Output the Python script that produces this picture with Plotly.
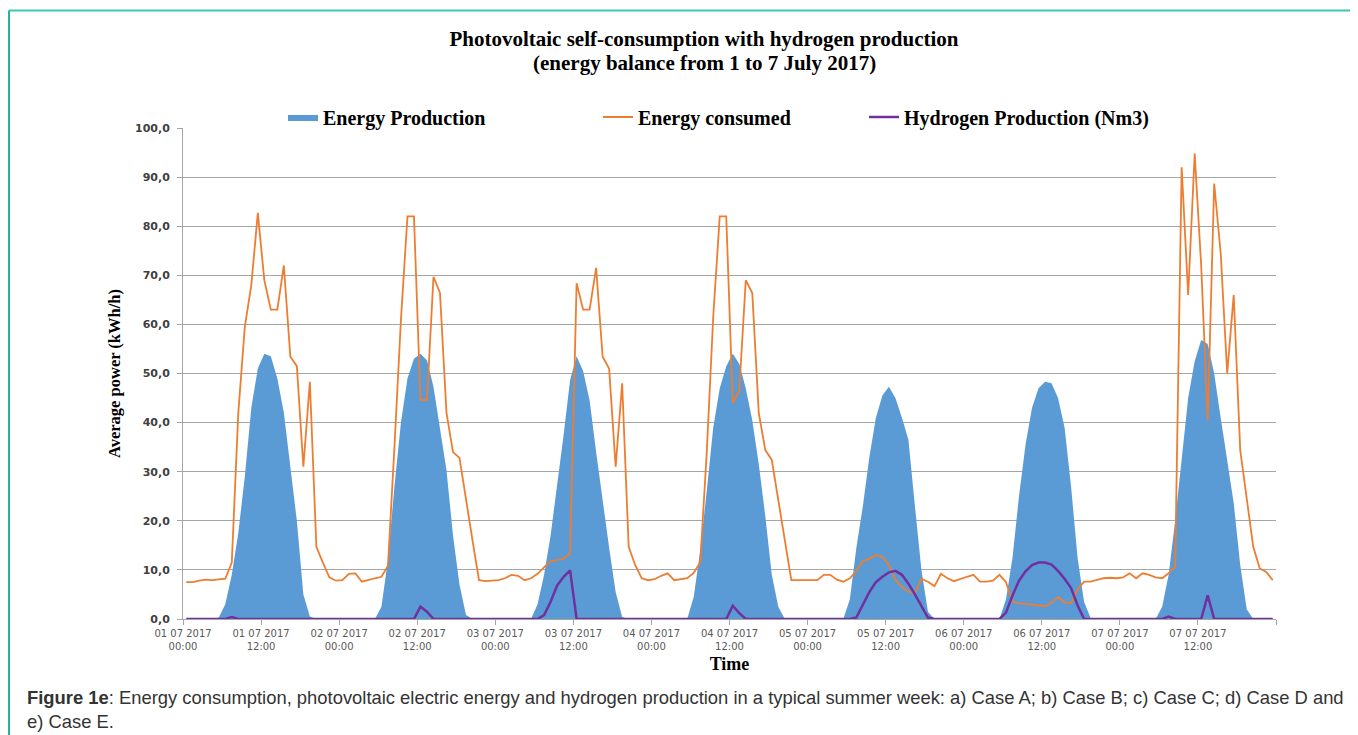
import plotly.graph_objects as go

# ---------------- data (hourly, 1-7 July 2017) ----------------
hours = list(range(168))

energy_production = [
    # 01 07
    0, 0, 0, 0, 0, 0.3, 3, 9, 17.5, 29, 43, 51, 54, 53.5, 49, 42, 31.5, 20, 5, 0.5, 0, 0, 0, 0,
    # 02 07
    0, 0, 0, 0, 0, 0, 2.5, 12, 27, 40, 49, 53, 54, 52.7, 47.3, 38.5, 30.3, 17, 7, 0.8, 0, 0, 0, 0,
    # 03 07
    0, 0, 0, 0, 0, 0, 3, 9, 17, 27, 37.5, 48.7, 53.5, 50.5, 44.5, 34, 24, 14.5, 5.5, 0.4, 0, 0, 0, 0,
    # 04 07
    0, 0, 0, 0, 0, 0, 4.5, 14, 26, 39, 47, 51.5, 54, 52, 47, 40.5, 31.5, 21, 9, 2.5, 0, 0, 0, 0,
    # 05 07
    0, 0, 0, 0, 0, 0, 4, 14.5, 23, 33, 41, 45.5, 47.3, 45, 41, 36.5, 23, 10, 1.5, 0, 0, 0, 0, 0,
    # 06 07
    0, 0, 0, 0, 0, 0, 4, 12.5, 25, 35.5, 43, 47, 48.3, 48, 45, 39, 27, 12.5, 3.5, 0.2, 0, 0, 0, 0,
    # 07 07
    0, 0, 0, 0, 0, 0, 2.5, 9, 20, 32.5, 45, 52.5, 56.8, 56, 50, 41, 32.5, 23.6, 11, 2, 0, 0, 0, 0,
]

energy_consumed = [
    # 01 07
    7.5, 7.5, 7.8, 8.0, 7.9, 8.0, 8.2, 11.5, 42, 59.5, 68, 82.7, 69, 63, 63, 72, 53.4, 51.5, 31, 48.3, 14.7, 11.5, 8.5, 7.8,
    # 02 07
    7.9, 9.2, 9.3, 7.6, 8.0, 8.3, 8.6, 10.8, 35, 61, 82, 82, 44.6, 44.6, 69.7, 66.4, 42, 34, 32.8, 24, 16, 7.9, 7.7, 7.8,
    # 03 07
    7.9, 8.3, 9.0, 8.8, 7.9, 8.3, 9.2, 10.5, 11.8, 12.0, 12.3, 13.4, 68.4, 63, 63, 71.5, 53.4, 51, 31, 48, 14.7, 11, 8.3, 7.9,
    # 04 07
    8.1, 8.8, 9.3, 7.9, 8.1, 8.3, 9.4, 11.5, 33.8, 61.6, 82, 82, 44, 46.5, 69, 66.4, 42, 34.4, 32.4, 24, 16, 7.9, 7.9, 7.9,
    # 05 07
    7.9, 7.9, 9.0, 9.0, 8.0, 7.6, 8.3, 9.8, 11.8, 12.3, 13.0, 12.7, 11.0, 8.0, 6.5, 5.6, 5.2, 8.2, 7.6, 6.7, 9.2, 8.3, 7.7, 8.2,
    # 06 07
    8.6, 9.0, 7.6, 7.6, 7.8, 9.0, 7.5, 3.5, 3.2, 3.1, 2.9, 2.7, 2.6, 3.3, 4.5, 3.4, 3.2, 6.0, 7.6, 7.6, 7.9, 8.3, 8.4, 8.3,
    # 07 07
    8.5, 9.3, 8.3, 9.3, 9.0, 8.5, 8.3, 9.3, 10.6, 92, 66, 94.8, 72, 40.5, 88.7, 74.5, 50, 66, 34.4, 24.9, 14.7, 10.3, 9.6, 7.9,
]

hydrogen_production = [
    # 01 07
    0, 0, 0, 0, 0, 0, 0, 0.4, 0, 0, 0, 0, 0, 0, 0, 0, 0, 0, 0, 0, 0, 0, 0, 0,
    # 02 07
    0, 0, 0, 0, 0, 0, 0, 0, 0, 0, 0, 0, 2.5, 1.5, 0, 0, 0, 0, 0, 0, 0, 0, 0, 0,
    # 03 07
    0, 0, 0, 0, 0, 0, 0, 0.8, 3.5, 6.8, 8.6, 9.9, 0, 0, 0, 0, 0, 0, 0, 0, 0, 0, 0, 0,
    # 04 07
    0, 0, 0, 0, 0, 0, 0, 0, 0, 0, 0, 0, 2.7, 1.2, 0, 0, 0, 0, 0, 0, 0, 0, 0, 0,
    # 05 07
    0, 0, 0, 0, 0, 0, 0, 0.3, 2.8, 5.5, 7.5, 8.6, 9.5, 9.8, 9.0, 7.2, 5.0, 2.5, 0.3, 0, 0, 0, 0, 0,
    # 06 07
    0, 0, 0, 0, 0, 0, 1.3, 4.8, 7.8, 9.7, 11.0, 11.5, 11.5, 11.1, 9.8, 8.2, 6.3, 2.8, 0, 0, 0, 0, 0, 0,
    # 07 07
    0, 0, 0, 0, 0, 0, 0, 0.5, 0, 0, 0, 0, 0, 4.8, 0, 0, 0, 0, 0, 0, 0, 0, 0, 0,
]

tick_hours = [0, 12, 24, 36, 48, 60, 72, 84, 96, 108, 120, 132, 144, 156, 168]
tick_labels = [
    "01 07 2017<br>00:00", "01 07 2017<br>12:00",
    "02 07 2017<br>00:00", "02 07 2017<br>12:00",
    "03 07 2017<br>00:00", "03 07 2017<br>12:00",
    "04 07 2017<br>00:00", "04 07 2017<br>12:00",
    "05 07 2017<br>00:00", "05 07 2017<br>12:00",
    "06 07 2017<br>00:00", "06 07 2017<br>12:00",
    "07 07 2017<br>00:00", "07 07 2017<br>12:00",
    "",
]

# points sit in the middle of each hourly category
x_centres = [h + 0.5 for h in hours]

SERIF = "Liberation Serif, Times New Roman, serif"
SANS = "Liberation Sans, Arial, sans-serif"
GRID = "#a6a6a6"

# the page places the figure 8 px in from the top-left corner
W, H = 1350, 727
L, T = 175, 120
PW, PH = 1093, 491

def px(xp):   # page x -> paper x
    return (xp - 8 - L) / PW

def py(yp):   # page y -> paper y
    return (T + PH - (yp - 8)) / PH

fig = go.Figure()
fig.add_trace(go.Scatter(
    x=x_centres, y=energy_production, name="Energy Production",
    mode="lines", fill="tozeroy", fillcolor="#5b9bd5",
    line=dict(width=0, color="#5b9bd5"), legend="legend",
))
fig.add_trace(go.Scatter(
    x=x_centres, y=energy_consumed, name="Energy consumed",
    mode="lines", line=dict(width=1.8, color="#ed7d31"), legend="legend2",
))
fig.add_trace(go.Scatter(
    x=x_centres, y=hydrogen_production, name="Hydrogen Production (Nm3)",
    mode="lines", line=dict(width=2.5, color="#7030a0"), legend="legend3",
))

legend_common = dict(
    orientation="h", yanchor="middle", y=py(117), xanchor="left",
    bgcolor="rgba(0,0,0,0)", itemwidth=30,
    font=dict(family=SERIF, size=20, color="#000000", weight="bold"),
)

fig.update_layout(
    width=W, height=H,
    margin=dict(l=L, r=W - L - PW, t=T, b=H - T - PH, autoexpand=False),
    paper_bgcolor="white", plot_bgcolor="white",
    separators=", ",
    showlegend=True,
    title=dict(
        text="Photovoltaic self-consumption with hydrogen production",
        x=(704 - 8) / W, xanchor="center", xref="container",
        y=1 - (38.5 - 8) / H, yanchor="middle", yref="container",
        font=dict(family=SERIF, size=21, color="#000000", weight="bold"),
    ),
    legend=dict(legend_common, x=px(283)),
    legend2=dict(legend_common, x=px(598)),
    legend3=dict(legend_common, x=px(864)),
    xaxis=dict(
        range=[0, 168], tickmode="array", tickvals=tick_hours, ticktext=tick_labels,
        ticks="outside", ticklen=5, tickcolor=GRID, showline=True, linecolor=GRID,
        showgrid=False, zeroline=False,
        tickfont=dict(family="DejaVu Sans, Verdana, sans-serif", size=10, color="#595959"),
        title=dict(text="Time", standoff=6,
                   font=dict(family=SERIF, size=18, color="#000000", weight="bold")),
    ),
    yaxis=dict(
        range=[0, 100], dtick=10, tickformat=".1f",
        ticks="outside", ticklen=5, tickcolor=GRID, showline=True, linecolor=GRID,
        showgrid=True, gridcolor=GRID, gridwidth=1, zeroline=False,
        ticklabelstandoff=5,
        tickfont=dict(family="DejaVu Sans, Verdana, sans-serif", size=11, color="#404040", weight="bold"),
        title=dict(text="Average power (kWh/h)", standoff=10,
                   font=dict(family=SERIF, size=16.5, color="#000000", weight="bold")),
    ),
)

# second title line
fig.add_annotation(
    xref="paper", yref="paper", x=px(704), y=py(63),
    xanchor="center", yanchor="middle", showarrow=False,
    text="(energy balance from 1 to 7 July 2017)",
    font=dict(family=SERIF, size=21, color="#000000", weight="bold"),
)

# figure caption
fig.add_annotation(
    xref="paper", yref="paper", x=px(25), y=py(709),
    xanchor="left", yanchor="middle", align="left", showarrow=False,
    text="<b>Figure 1e</b>: Energy consumption, photovoltaic electric energy and hydrogen production in a typical summer week: a) Case A; b) Case B; c) Case C; d) Case D and<br>e) Case E.",
    font=dict(family=SANS, size=18.4, color="#333333"),
)

# teal frame lines of the figure box
fig.add_shape(type="line", xref="paper", yref="paper",
              x0=px(9), x1=px(1360), y0=py(10.5), y1=py(10.5),
              line=dict(color="#3cc8b4", width=2))
fig.add_shape(type="line", xref="paper", yref="paper",
              x0=px(9), x1=px(9), y0=py(10.5), y1=py(740),
              line=dict(color="#20b4a0", width=2))

fig.write_html("out.html")
